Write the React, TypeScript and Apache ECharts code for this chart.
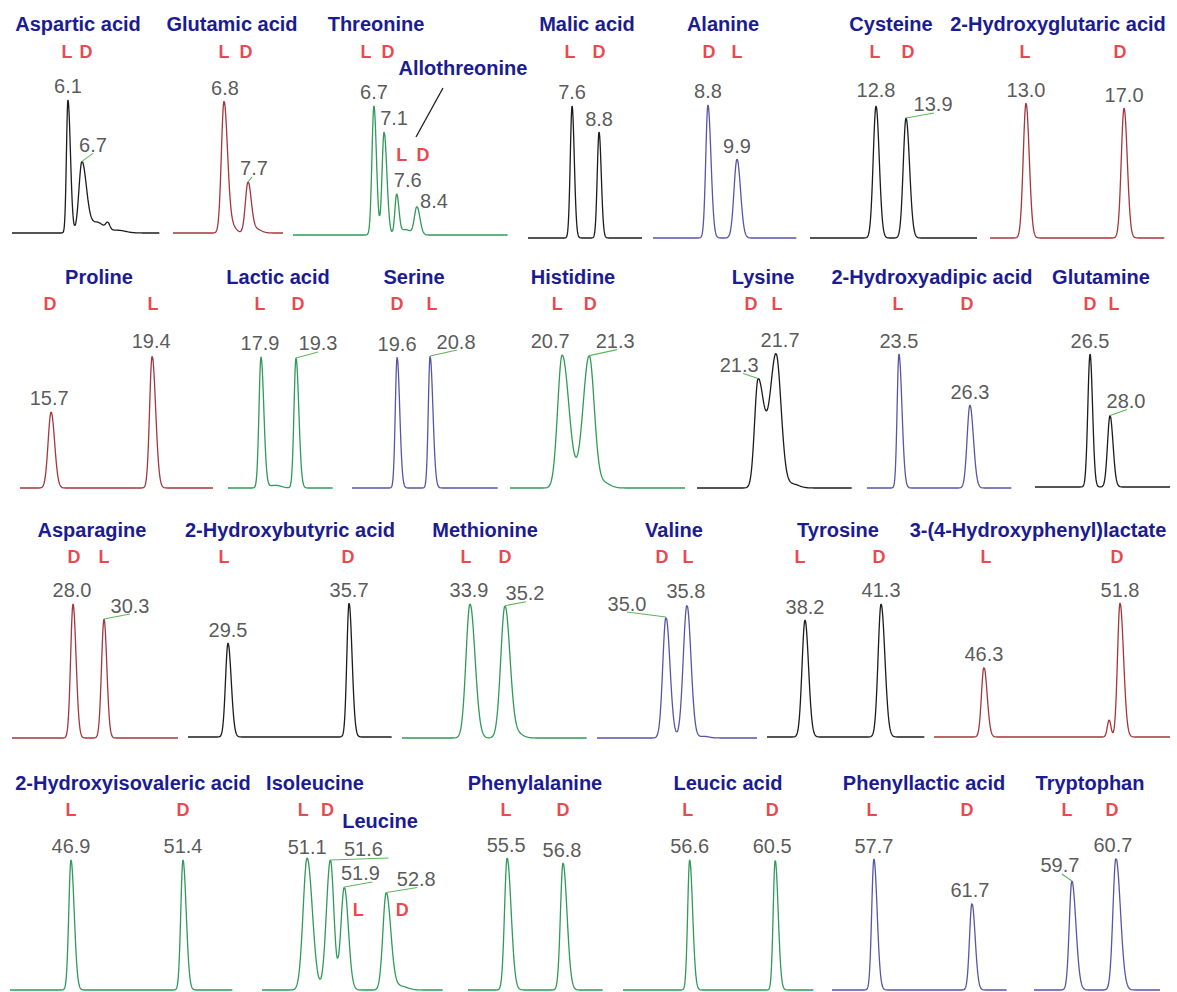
import React, { useEffect, useRef } from "react";
import * as echarts from "echarts";

// ---------------- data ----------------
const panelTitles = [
  "Aspartic acid", "Glutamic acid", "Threonine", "Malic acid", "Alanine", "Cysteine", "2-Hydroxyglutaric acid",
  "Proline", "Lactic acid", "Serine", "Histidine", "Lysine", "2-Hydroxyadipic acid", "Glutamine",
  "Asparagine", "2-Hydroxybutyric acid", "Methionine", "Valine", "Tyrosine", "3-(4-Hydroxyphenyl)lactate",
  "2-Hydroxyisovaleric acid", "Isoleucine", "Phenylalanine", "Leucic acid", "Phenyllactic acid", "Tryptophan",
];

const traceColorKey = [
  "k", "r", "g", "k", "b", "k", "r",
  "r", "g", "b", "g", "k", "b", "k",
  "r", "k", "g", "b", "k", "r",
  "g", "g", "g", "g", "b", "b",
];

// retention-time window of each panel (min)
const timeRange = [
  [3.7, 10.05], [4.89, 9.01], [3.5, 12.0], [5.64, 10.71], [6.72, 12.17], [10.38, 16.5], [11.53, 18.67],
  [14.56, 21.63], [16.58, 20.78], [17.96, 23.27], [19.54, 23.43], [19.94, 23.39], [22.24, 27.96], [22.37, 32.5],
  [23.47, 35.79], [27.45, 37.9], [31.37, 38.25], [32.37, 38.47], [36.65, 43.09], [44.28, 53.82],
  [44.45, 53.41], [50.13, 54.02], [54.59, 57.73], [53.56, 62.27], [55.99, 63.13], [58.84, 61.7],
];

// labelled peaks: retention time (min)
const peakRT = [
  [6.1, 6.7], [6.8, 7.7], [6.7, 7.1, 7.6, 8.4], [7.6, 8.8], [8.8, 9.9], [12.8, 13.9], [13.0, 17.0],
  [15.7, 19.4], [17.9, 19.3], [19.6, 20.8], [20.7, 21.3], [21.3, 21.7], [23.5, 26.3], [26.5, 28.0],
  [28.0, 30.3], [29.5, 35.7], [33.9, 35.2], [35.0, 35.8], [38.2, 41.3], [46.3, 51.8],
  [46.9, 51.4], [51.1, 51.6, 51.9, 52.8], [55.5, 56.8], [56.6, 60.5], [57.7, 61.7], [59.7, 60.7],
];

const peakEnantiomer = [
  ["L", "D"], ["L", "D"], ["L", "D", "L", "D"], ["L", "D"], ["D", "L"], ["L", "D"], ["L", "D"],
  ["D", "L"], ["L", "D"], ["D", "L"], ["L", "D"], ["D", "L"], ["L", "D"], ["D", "L"],
  ["D", "L"], ["L", "D"], ["L", "D"], ["D", "L"], ["L", "D"], ["L", "D"],
  ["L", "D"], ["L", "D", "L", "D"], ["L", "D"], ["L", "D"], ["L", "D"], ["L", "D"],
];

// relative peak heights (% of panel scale)
const peakHeight = [
  [100, 53], [98.5, 37.6], [95.6, 76.3, 29.6, 20.7], [95.7, 76.8], [96.4, 57.2], [95.7, 87], [97.8, 94.2],
  [55.9, 97], [96.3, 95.6], [96.3, 97], [97.8, 97], [79.4, 97.8], [98.5, 61], [98.5, 52.9],
  [99.3, 88.1], [70.1, 100], [99.3, 97.8], [89.6, 98.5], [87.3, 99.3], [52.2, 100],
  [98.5, 98.5], [100, 98.5, 78, 73.5], [100, 96.2], [98.5, 98.5], [99.2, 65.9], [82.6, 100],
];

// peak widths (min): leading and trailing half
const peakSigmaL = [
  [0.064, 0.129], [0.098, 0.098], [0.079, 0.079, 0.071, 0.099], [0.08, 0.08], [0.083, 0.114], [0.103, 0.103], [0.114, 0.114],
  [0.11, 0.092], [0.08, 0.08], [0.065, 0.065], [0.1, 0.138], [0.078, 0.133], [0.071, 0.11], [0.165, 0.188],
  [0.178, 0.185], [0.128, 0.113], [0.149, 0.156], [0.122, 0.141], [0.122, 0.122], [0.101, 0.101],
  [0.088, 0.088], [0.086, 0.086, 0.075, 0.071], [0.06, 0.06], [0.091, 0.091], [0.09, 0.098], [0.059, 0.068],
];
const peakSigmaR = [
  [0.107, 0.193], [0.131, 0.12], [0.099, 0.111, 0.087, 0.119], [0.098, 0.098], [0.114, 0.133], [0.117, 0.128], [0.131, 0.131],
  [0.128, 0.128], [0.112, 0.112], [0.095, 0.102], [0.151, 0.113], [0.133, 0.111], [0.118, 0.138], [0.188, 0.225],
  [0.223, 0.208], [0.164, 0.154], [0.186, 0.186], [0.152, 0.152], [0.143, 0.155], [0.129, 0.142],
  [0.129, 0.129], [0.112, 0.075, 0.086, 0.097], [0.093, 0.093], [0.136, 0.136], [0.131, 0.131], [0.091, 0.102],
];

// unlabelled shoulders / tails: [rt, height, sigmaL, sigmaR]
const minorPeaks = [
  [[7.34, 8, 0.3, 0.3], [7.81, 5, 0.086, 0.086], [8.24, 2, 0.34, 0.34]],
  [[7.1, 5, 0.15, 0.15], [8.0, 3, 0.19, 0.19]],
  [[7.95, 4, 0.2, 0.2]],
  [], [], [], [],
  [], [[18.46, 2, 0.24, 0.24]], [], [[21.62, 4, 0.14, 0.14]], [[22.05, 3, 0.15, 0.15]], [], [],
  [], [], [[35.68, 3, 0.2, 0.2]], [[36.45, 1.2, 0.2, 0.2]], [], [[51.36, 12.7, 0.073, 0.073]],
  [], [[53.1, 3, 0.15, 0.15]], [], [], [], [],
];

// ---------------- layout (pixels) ----------------
const panelRow = [0, 0, 0, 0, 0, 0, 0, 1, 1, 1, 1, 1, 1, 1, 2, 2, 2, 2, 2, 2, 3, 3, 3, 3, 3, 3];
const panelBox = [
  [12, 160, 233], [173, 283, 233], [293, 508, 235], [528, 642, 238], [653, 797, 238], [810, 977, 238], [990, 1165, 238],
  [20, 213, 488], [228, 333, 488], [352, 498, 488], [510, 685, 488], [697, 852, 488], [867, 1012, 488], [1035, 1170, 487],
  [12, 178, 738], [188, 392, 737], [402, 587, 738], [597, 757, 738], [767, 925, 737], [934, 1170, 737],
  [10, 233, 990], [262, 443, 990], [468, 603, 990], [623, 814, 990], [832, 1007, 990], [1034, 1160, 990],
];
const rowTop = [100, 352, 603, 858];
const rowTitleY = [24, 277, 530, 783];
const rowLdY = [52, 304, 557, 810];
const titleX = [78, 232, 376, 587, 723, 891, 1058, 99, 278, 414, 573, 763, 932, 1101, 92, 290, 485, 674, 838, 1038, 133, 315, 535, 728, 924, 1090];
// value label shift [dx, dy, leader end extra x (or null = no leader)]
const valueLabelShift: (number | null)[][][] = [
  [[0, 0, null], [11, -3, 0]], [[1, 0, null], [6, 0, -2]], [[0, 0, null], [10, 0, null], [11, 0, null], [17, 8, null]], [[0, 0, null], [0, 0, null]],
  [[0, 0, null], [0, 0, null]], [[0, -2, null], [27, 0, 1]], [[0, 0, null], [0, 0, null]],
  [[-2, 0, null], [-1, -2, null]], [[-1, 0, null], [22, -1, 0]], [[0, 0, null], [26, -1, 1]], [[-12, 0, null], [26, -1, 2]],
  [[-19, 0, 4], [4, 0, null]], [[0, 0, null], [0, 0, null]], [[0, 0, null], [16, -1, 1]],
  [[-1, 0, null], [26, 0, 0]], [[0, 0, null], [0, 0, null]], [[-1, 0, null], [20, 1, 1]], [[-39, 0, 0], [-1, -1, null]],
  [[0, 0, null], [0, 0, null]], [[0, 0, null], [0, 0, null]],
  [[0, 0, null], [0, 0, null]], [[0, 2, null], [33, 3, 25], [16, 0, 12], [30, 0, 1]], [[-1, 0, null], [-1, 0, null]],
  [[0, 0, null], [-3, 0, null]], [[0, 0, null], [-2, 0, null]], [[-12, -2, 2], [-3, 0, null]],
];
const ldShift = [
  [-1, 4], [0, -2], [-8, 4, 5, 6], [-2, 0], [1, 0], [-1, 2], [-1, -4],
  [-1, 1], [-1, 2], [0, 2], [-5, 1], [-7, 1], [-1, -3], [0, 4],
  [1, 0], [-4, -1], [-4, 0], [-4, 1], [-5, -2], [2, -3],
  [0, 0], [-4, -3, 14, 16], [-1, 0], [-2, -3], [-2, -5], [-5, -4],
];
const ldOwnY: Record<number, number[]> = { 2: [0, 0, 155, 155], 21: [0, 0, 910, 910] };

const palette: Record<string, string> = { k: "#1c1c1c", r: "#a3373d", g: "#2f9a5a", b: "#5656a6" };
const TITLE_COLOR = "#1b1b93";
const LD_COLOR = "#e5161d";
const LABEL_COLOR = "#2e2e2e";
const LEADER_COLOR = "#5cb85c";
const FONT = '"Liberation Sans", Arial, Helvetica, sans-serif';

function profile(t: number, peaks: number[][]) {
  let y = 0;
  for (const [c, h, sl, sr] of peaks) {
    const s = t < c ? sl : sr;
    const z = (t - c) / s;
    y += h * Math.exp(-0.5 * z * z);
  }
  return y;
}

function textEl(text: string, x: number, y: number, fill: string, size: number, bold: boolean) {
  return {
    type: "text",
    x,
    y,
    silent: true,
    style: {
      text,
      fill,
      font: `${bold ? "bold " : ""}${size}px ${FONT}`,
      textAlign: "center",
      textVerticalAlign: "middle",
      align: "center",
      verticalAlign: "middle",
    },
  };
}

function buildOption() {
  const grids: any[] = [];
  const xAxes: any[] = [];
  const yAxes: any[] = [];
  const series: any[] = [];
  const graphic: any[] = [];

  panelTitles.forEach((title, i) => {
    const [left, right, base] = panelBox[i];
    const row = panelRow[i];
    const top = rowTop[row];
    const gh = base - top;
    const gw = right - left;
    grids.push({ left, top, width: gw, height: gh, containLabel: false });
    const [tMin, tMax] = timeRange[i];
    xAxes.push({ gridIndex: i, type: "value", min: tMin, max: tMax, show: false });
    yAxes.push({ gridIndex: i, type: "value", min: 0, max: 100, show: false });

    const peaks = peakRT[i]
      .map((rt, k) => [rt, peakHeight[i][k], peakSigmaL[i][k], peakSigmaR[i][k]])
      .concat(minorPeaks[i]);
    const n = Math.round(gw * 3);
    const ts: number[] = [];
    for (let s = 0; s <= n; s++) ts.push(tMin + ((tMax - tMin) * s) / n);
    peakRT[i].forEach((rt) => ts.push(rt));
    ts.sort((a, b) => a - b);
    const color = palette[traceColorKey[i]];

    series.push({
      type: "line",
      xAxisIndex: i,
      yAxisIndex: i,
      data: ts.map((t) => [t, profile(t, peaks)]),
      symbol: "none",
      showSymbol: false,
      lineStyle: { color, width: 1.3 },
      silent: true,
      clip: false,
      z: 2,
    });

    const shifts = valueLabelShift[i];
    const perPxT = (tMax - tMin) / gw;
    const perPxH = 100 / gh;

    // leader lines from the apex to the foot of a displaced label
    peakRT[i].forEach((rt, k) => {
      const [dx, dy, ex] = shifts[k] as number[];
      if (shifts[k][2] === null) return;
      const hApex = profile(rt, peaks);
      series.push({
        type: "line",
        xAxisIndex: i,
        yAxisIndex: i,
        data: [
          [rt, hApex],
          [rt + (dx + ex) * perPxT, hApex - (dy - 5) * perPxH],
        ],
        symbol: "none",
        showSymbol: false,
        lineStyle: { color: LEADER_COLOR, width: 1.1 },
        silent: true,
        clip: false,
        z: 2,
      });
    });

    series.push({
      type: "scatter",
      xAxisIndex: i,
      yAxisIndex: i,
      symbol: "circle",
      symbolSize: 1,
      itemStyle: { color: "rgba(0,0,0,0)" },
      silent: true,
      clip: false,
      z: 3,
      data: peakRT[i].map((rt) => ({ value: [rt, profile(rt, peaks)] })),
      label: {
        show: true,
        position: "top",
        distance: 3,
        formatter: (p: any) => peakRT[i][p.dataIndex].toFixed(1),
        color: LABEL_COLOR,
        fontSize: 20,
        fontFamily: FONT,
      },
      labelLayout: (p: any) => ({ dx: shifts[p.dataIndex][0], dy: shifts[p.dataIndex][1] }),
    });

    series.push({
      type: "scatter",
      xAxisIndex: i,
      yAxisIndex: i,
      symbol: "circle",
      symbolSize: 1,
      itemStyle: { color: "rgba(0,0,0,0)" },
      silent: true,
      clip: false,
      z: 3,
      data: peakRT[i].map((rt, k) => {
        const own = ldOwnY[i] ? ldOwnY[i][k] : 0;
        const y = own || rowLdY[row];
        return { value: [rt, ((base - y) / gh) * 100], label: { offset: [ldShift[i][k], 0] } };
      }),
      label: {
        show: true,
        position: "inside",
        formatter: (p: any) => peakEnantiomer[i][p.dataIndex],
        color: LD_COLOR,
        fontSize: 18,
        fontWeight: "bold",
        fontFamily: FONT,
      },
    });

    graphic.push(textEl(title, titleX[i], rowTitleY[row], TITLE_COLOR, 20, true));
  });

  graphic.push(textEl("Allothreonine", 463, 68, TITLE_COLOR, 20, true));
  graphic.push({
    type: "line",
    silent: true,
    shape: { x1: 443, y1: 88, x2: 416, y2: 137 },
    style: { stroke: "#1c1c1c", lineWidth: 1.3 },
  });
  graphic.push(textEl("Leucine", 380, 821, TITLE_COLOR, 20, true));

  return {
    animation: false,
    backgroundColor: "#ffffff",
    grid: grids,
    xAxis: xAxes,
    yAxis: yAxes,
    series,
    graphic,
  };
}

export default function App() {
  const ref = useRef<HTMLDivElement>(null);
  useEffect(() => {
    if (!ref.current) return;
    const chart = echarts.init(ref.current, undefined, { renderer: "svg" });
    chart.setOption(buildOption() as any);
    return () => chart.dispose();
  }, []);
  return (
    <div
      ref={ref}
      style={{ position: "absolute", left: 0, top: 0, width: 1177, height: 992, background: "#fff" }}
    />
  );
}
